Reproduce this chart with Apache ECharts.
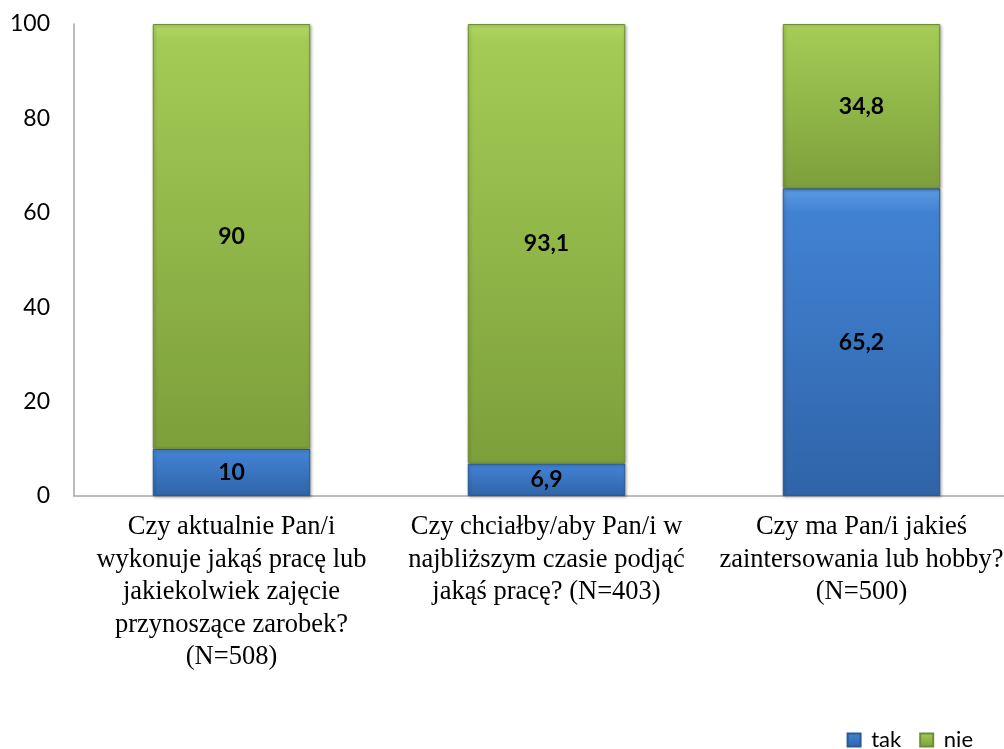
<!DOCTYPE html>
<html>
<head>
<meta charset="utf-8">
<script src="https://cdn.jsdelivr.net/npm/echarts@6/dist/echarts.min.js"></script>
<style>
  html, body { margin: 0; padding: 0; background: #fff; }
  #chart { width: 1004px; height: 749px; }
</style>
</head>
<body>
<div id="chart"></div>
<script>
// dane z wykresu
const categories = [
  'Czy aktualnie Pan/i\nwykonuje jakąś pracę lub\njakiekolwiek zajęcie\nprzynoszące zarobek?\n(N=508)',
  'Czy chciałby/aby Pan/i w\nnajbliższym czasie podjąć\njakąś pracę? (N=403)',
  'Czy ma Pan/i jakieś\nzaintersowania lub hobby?\n(N=500)'
]
const takValues = [10, 6.9, 65.2]
const nieValues = [90, 93.1, 34.8]

const chart = echarts.init(document.getElementById('chart'), null, { renderer: 'canvas' })

// etykiety z przecinkiem dziesiętnym
const fmt = p => String(p.value).replace('.', ',')

const labelStyle = {
  show: true,
  position: 'inside',
  formatter: fmt,
  color: '#000',
  fontSize: 23,
  fontWeight: 'bold',
  fontFamily: 'Lato, "Open Sans", sans-serif'
}

chart.setOption({
  backgroundColor: '#fff',
  animation: false,
  // obszar wykresu wychodzi poza prawą krawędź obrazka, jak w oryginale
  grid: { left: 74, width: 945, top: 24, bottom: 253, outerBoundsMode: 'none', containLabel: false },
  legend: {
    right: 31,
    top: 729,
    padding: 0,
    itemWidth: 13,
    itemHeight: 13,
    itemGap: 18,
    icon: 'rect',
    formatter: name => ' ' + name,
    textStyle: { fontSize: 22, color: '#000', fontFamily: 'Lato, "Open Sans", sans-serif' },
    data: ['tak', 'nie']
  },
  xAxis: {
    type: 'category',
    data: categories,
    axisLine: { lineStyle: { color: '#a6a6a6', width: 1.5 } },
    axisTick: { show: false },
    axisLabel: {
      interval: 0,
      margin: 15,
      color: '#000',
      fontSize: 26.5,
      lineHeight: 32.5,
      fontFamily: '"Liberation Serif", "Times New Roman", serif'
    }
  },
  yAxis: {
    type: 'value',
    min: 0,
    max: 100,
    interval: 20,
    axisLine: { show: true, lineStyle: { color: '#a6a6a6', width: 1.5 } },
    axisTick: { show: false },
    splitLine: { show: false },
    axisLabel: {
      margin: 24,
      color: '#000',
      fontSize: 23,
      fontFamily: 'Lato, "Open Sans", sans-serif'
    }
  },
  series: [
    {
      name: 'tak',
      type: 'bar',
      stack: 'total',
      barWidth: '50%',
      data: takValues,
      label: labelStyle,
      itemStyle: {
        color: new echarts.graphic.LinearGradient(0, 0, 0, 1, [
          { offset: 0, color: '#5b9ae4' },
          { offset: 0.08, color: '#4282d3' },
          { offset: 1, color: '#2f64a8' }
        ]),
        borderColor: '#2a5a96',
        borderWidth: 1,
        shadowColor: 'rgba(0,0,0,0.3)',
        shadowBlur: 3,
        shadowOffsetX: 1,
        shadowOffsetY: 1
      }
    },
    {
      name: 'nie',
      type: 'bar',
      stack: 'total',
      data: nieValues,
      label: labelStyle,
      itemStyle: {
        color: new echarts.graphic.LinearGradient(0, 0, 0, 1, [
          { offset: 0, color: '#b0d765' },
          { offset: 0.04, color: '#a3cb55' },
          { offset: 1, color: '#7d9f3b' }
        ]),
        borderColor: '#6f8d34',
        borderWidth: 1,
        shadowColor: 'rgba(0,0,0,0.3)',
        shadowBlur: 3,
        shadowOffsetX: 1,
        shadowOffsetY: 1
      }
    }
  ]
})
</script>
</body>
</html>
